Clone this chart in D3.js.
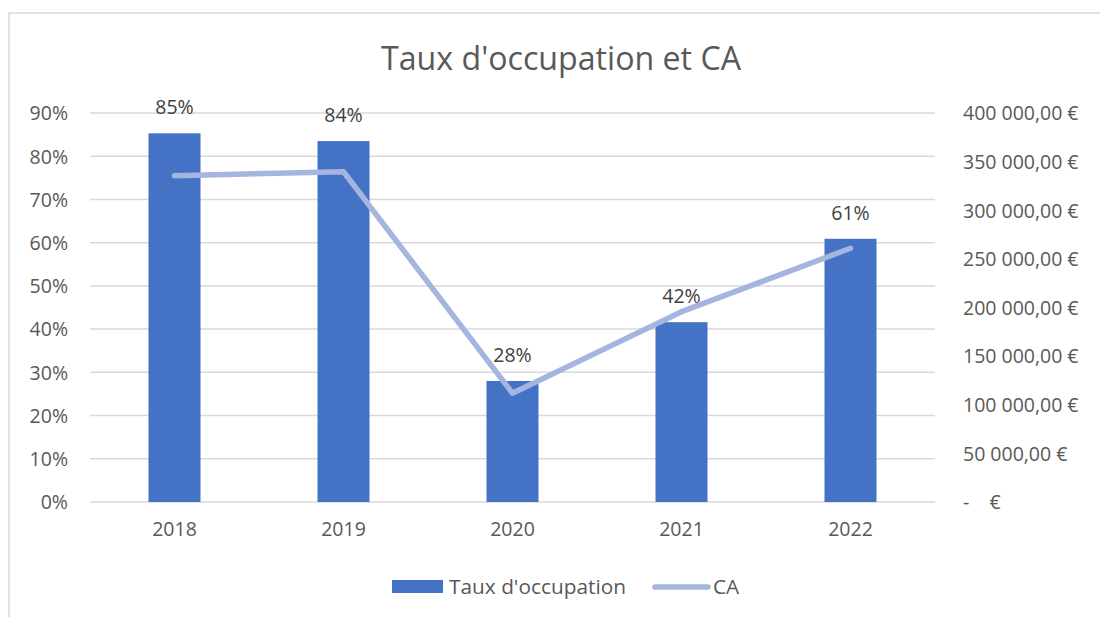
<!DOCTYPE html>
<html><head><meta charset="utf-8">
<script src="https://cdn.jsdelivr.net/npm/d3@7"></script>
<style>body{margin:0;background:#fff;} svg{display:block;} svg text{font-family:"Open Sans","Noto Sans",sans-serif;}</style>
</head><body>
<svg id="c" width="1100" height="617"></svg>
<script>
const categories = ["2018","2019","2020","2021","2022"];
const occupation = [0.853, 0.835, 0.28, 0.416, 0.609];
const occLabels = ["85%","84%","28%","42%","61%"];
const ca = [335500, 339600, 111800, 195700, 260900];
const leftTicks = [0,0.1,0.2,0.3,0.4,0.5,0.6,0.7,0.8,0.9];
const rightTicks = [0,50000,100000,150000,200000,250000,300000,350000,400000];

const svg = d3.select("#c");
const W = 1100, H = 617;
svg.append("rect").attr("x",9).attr("y",13).attr("width",W).attr("height",H).attr("fill","#fff").attr("stroke","#d9d9d9").attr("stroke-width",1.5);

const x = d3.scaleBand().domain(categories).range([90,935]).paddingInner(0).paddingOuter(0);
const yL = d3.scaleLinear().domain([0,0.9]).range([502,113]);
const yR = d3.scaleLinear().domain([0,400000]).range([502,113]);
const txt = "#595959";

function fitWidth(sel, target){
  const n = sel.node(); const w = n.getComputedTextLength();
  const fs = parseFloat(sel.attr("font-size"));
  sel.attr("font-size", (fs*target/w).toFixed(2));
}

const title = svg.append("text").attr("x",561).attr("y",70).attr("text-anchor","middle").attr("fill",txt)
  .attr("font-size",28).text("Taux d'occupation et CA");
fitWidth(title, 360);

// gridlines
svg.append("g").selectAll("line").data(leftTicks).join("line")
  .attr("x1",90).attr("x2",935).attr("y1",d=>yL(d)).attr("y2",d=>yL(d))
  .attr("stroke","#d9d9d9").attr("stroke-width",1.5);

const TS = 19.5;
// left axis
const fmtPct = d3.format(".0%");
const gL = svg.append("g").attr("transform","translate(68,0)")
  .call(d3.axisLeft(yL).tickValues(leftTicks).tickFormat(fmtPct).tickSize(0).tickPadding(0));
gL.attr("font-family",null).attr("font-size",null);
gL.select(".domain").remove();
gL.selectAll("text").attr("fill",txt).attr("font-size",TS).attr("dy","0.35em");

// right axis
const fr = d3.formatLocale({decimal:",",thousands:" ",grouping:[3],currency:["",""]});
const fmtE = d => d===0 ? "-    €" : fr.format(",.2f")(d) + " €";
const gR = svg.append("g").attr("transform","translate(963,0)")
  .call(d3.axisRight(yR).tickValues(rightTicks).tickFormat(fmtE).tickSize(0).tickPadding(0));
gR.attr("font-family",null).attr("font-size",null);
gR.select(".domain").remove();
gR.selectAll("text").attr("fill",txt).attr("font-size",TS).attr("dy","0.35em").style("white-space","pre");

// x axis
const gX = svg.append("g").attr("transform","translate(0,522)")
  .call(d3.axisBottom(x).tickSize(0).tickPadding(0));
gX.attr("font-family",null).attr("font-size",null);
gX.select(".domain").remove();
gX.selectAll("text").attr("fill",txt).attr("font-size",TS).attr("dy","0.71em");

// bars
const bw = 52;
svg.append("g").selectAll("rect").data(categories).join("rect")
  .attr("x",(d)=>x(d)+x.bandwidth()/2-bw/2).attr("width",bw)
  .attr("y",(d,i)=>yL(occupation[i])).attr("height",(d,i)=>yL(0)-yL(occupation[i]))
  .attr("fill","#4472c4");

// bar labels
svg.append("g").selectAll("text").data(categories).join("text")
  .attr("x",d=>x(d)+x.bandwidth()/2).attr("y",(d,i)=>yL(occupation[i])-19)
  .attr("text-anchor","middle").attr("fill","#404040").attr("font-size",TS)
  .text((d,i)=>occLabels[i]);

// line
const line = d3.line().x((d,i)=>x(categories[i])+x.bandwidth()/2).y(d=>yR(d));
svg.append("path").datum(ca).attr("d",line).attr("fill","none")
  .attr("stroke","#a5b5df").attr("stroke-width",5.5).attr("stroke-linecap","round").attr("stroke-linejoin","round");

// legend
const lg = svg.append("g");
lg.append("rect").attr("x",392).attr("y",580).attr("width",51).attr("height",13).attr("fill","#4472c4");
const lt = lg.append("text").attr("x",449).attr("y",587).attr("dy","0.35em").attr("fill",txt).attr("font-size",TS).text("Taux d'occupation");
fitWidth(lt, 177);
lg.append("line").attr("x1",655).attr("x2",708).attr("y1",587).attr("y2",587).attr("stroke","#a5b5df").attr("stroke-width",5.5).attr("stroke-linecap","round");
lg.append("text").attr("x",713).attr("y",587).attr("dy","0.35em").attr("fill",txt).attr("font-size",lt.attr("font-size")).text("CA");
</script>
</body></html>
